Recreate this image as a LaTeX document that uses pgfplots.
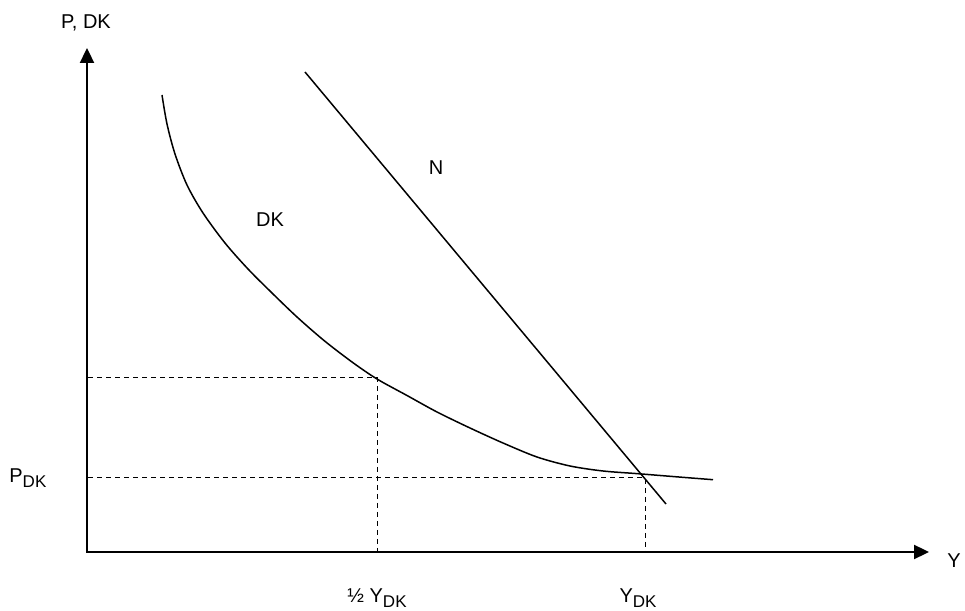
\documentclass[border=0pt]{standalone}
\usepackage{fontspec}
\setmainfont{Liberation Sans}
\usepackage{pgfplots}
\pgfplotsset{compat=1.18}
\usetikzlibrary{arrows.meta}
\newcommand\sub[1]{\raisebox{-0.4ex}{\fontsize{8.5pt}{10pt}\selectfont #1}}

\begin{document}
\begin{tikzpicture}
\begin{axis}[
    width=482.5pt, height=305.5pt,
    scale only axis,
    xmin=0, xmax=965, ymin=0, ymax=611,
    hide axis, clip=false,
    every node/.style={font=\fontsize{12.5pt}{14pt}\selectfont},
  ]
  \coordinate (ll) at (axis cs:0,0);
  \coordinate (ur) at (axis cs:965,611);

  % axes
  \addplot[black, line width=1.15pt, -{Triangle[length=7.5pt,width=7pt]}]
    coordinates {(87,59) (87,563)};
  \addplot[black, line width=1.15pt, -{Triangle[length=7.5pt,width=7pt]}]
    coordinates {(86,59) (929,59)};

  % dashed guides
  \addplot[black, line width=0.5pt, dash pattern=on 2.5pt off 2pt]
    coordinates {(88,233) (377,233) (377,59)};
  \addplot[black, line width=0.5pt, dash pattern=on 2.5pt off 2pt]
    coordinates {(88,133) (645,133) (645,59)};

  % N line
  \addplot[black, line width=0.75pt] coordinates {(305,539) (666,107)};

  % DK curve
  \addplot[black, line width=0.75pt, smooth] coordinates {
    (162,516) (167,487) (175,457) (187,426) (203,398) (225,368)
    (248,342) (272,318) (297,294) (324,270.5) (352,249) (377,232)
    (407,215.5) (437,199) (470,183) (503,168) (537,154) (570,145)
    (603,140) (638,137.3) (675,134.3) (713,131.3)
  };

  % labels
  \node at (axis cs:86,588) {P, DK};
  \node[anchor=west, inner sep=0pt] at (axis cs:947,50) {Y};
  \node at (axis cs:270,391) {DK};
  \node at (axis cs:436,443) {N};
  \node[anchor=base west, inner sep=0pt] at (axis cs:9,128) {P\sub{DK}};
  \node[anchor=base, inner sep=0pt] at (axis cs:377,8) {½ Y\sub{DK}};
  \node[anchor=base, inner sep=0pt] at (axis cs:638,8) {Y\sub{DK}};
\end{axis}
\pgfresetboundingbox
\path[use as bounding box] (ll) rectangle (ur);
\end{tikzpicture}
\end{document}
